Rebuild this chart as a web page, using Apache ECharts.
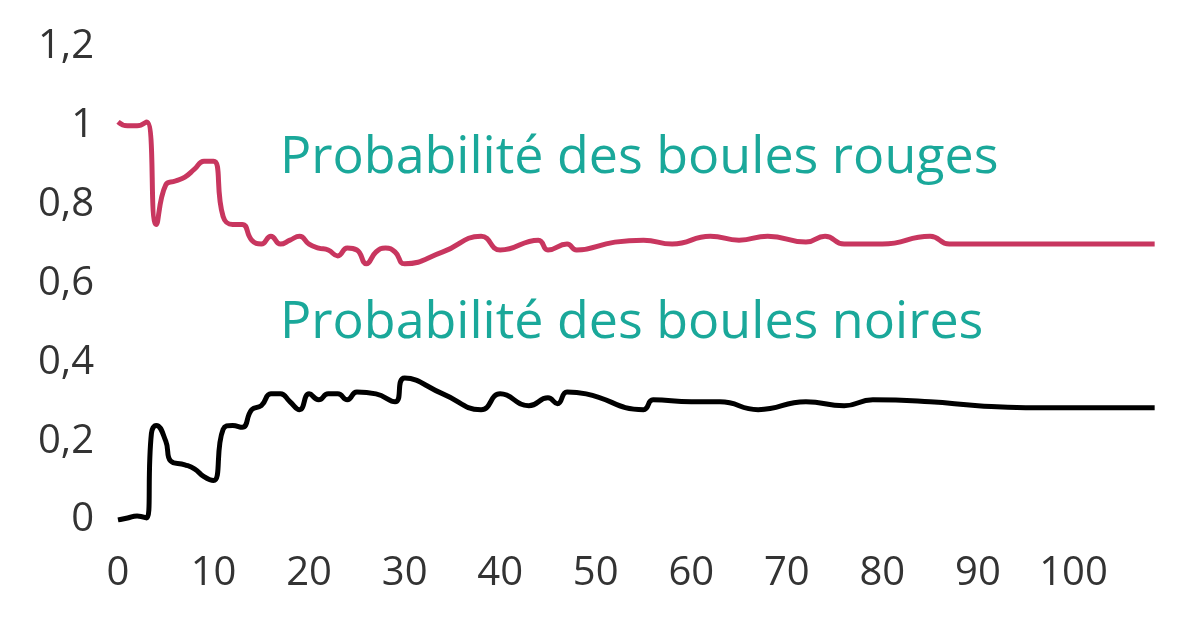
<!DOCTYPE html><html><head><meta charset="utf-8"><script src="https://cdn.jsdelivr.net/npm/echarts@6/dist/echarts.min.js"></script></head><body style="margin:0"><div id="c" style="width:1200px;height:620px"></div><script>
const red=[[0,1.01],[1,1.0],[2,1.0],[3,1.01],[4,0.75],[5,0.85],[6,0.86],[7,0.87],[8,0.89],[9,0.91],[10,0.91],[11,0.77],[12,0.75],[13,0.75],[14,0.71],[15,0.70],[16,0.72],[17,0.70],[18,0.71],[19,0.72],[20,0.70],[21,0.69],[22,0.685],[23,0.67],[24,0.69],[25,0.685],[26,0.65],[27,0.68],[28,0.69],[29,0.68],[30,0.65],[34,0.68],[38,0.72],[40,0.685],[44,0.71],[45,0.685],[47,0.70],[48,0.685],[52,0.705],[55,0.71],[58,0.70],[62,0.72],[65,0.71],[68,0.72],[72,0.705],[74,0.72],[76,0.70],[80,0.70],[85,0.72],[87,0.70],[90,0.70],[100,0.70],[108.5,0.70]];
const black=[[0,0],[1,0.005],[2,0.01],[3,0.005],[3.5,0.22],[4,0.24],[5,0.2],[5.5,0.15],[7,0.14],[8,0.13],[9,0.11],[10,0.10],[11,0.23],[12,0.24],[13,0.235],[14,0.28],[15,0.29],[16,0.32],[17,0.32],[18,0.30],[19,0.28],[20,0.32],[21,0.305],[22,0.32],[23,0.32],[24,0.305],[25,0.325],[27,0.32],[29,0.30],[30,0.36],[34,0.32],[38,0.28],[40,0.32],[43,0.29],[45,0.31],[46,0.295],[47,0.325],[49,0.32],[55,0.28],[56,0.305],[60,0.30],[63,0.30],[67,0.28],[72,0.30],[76,0.29],[79,0.305],[85,0.30],[90,0.29],[95,0.285],[108.5,0.285]];
const redLabel='Probabilité des boules rouges', blackLabel='Probabilité des boules noires';
const ch=echarts.init(document.getElementById('c'));
const lab={color:'#333',fontSize:40,fontFamily:'Open Sans'};
ch.setOption({animation:false,
grid:{left:118,right:31,top:47,bottom:100},
xAxis:{type:'value',min:0,max:110,interval:10,axisLine:{show:false},axisTick:{show:false},splitLine:{show:false},
 axisLabel:Object.assign({margin:34,formatter:v=>v>100?'':v},lab)},
yAxis:{type:'value',min:0,max:1.2,interval:0.2,axisLine:{show:false},axisTick:{show:false},splitLine:{show:false},
 axisLabel:Object.assign({margin:24,formatter:v=>String(+v.toFixed(1)).replace('.',',')},lab)},
series:[{type:'line',data:red,smooth:0.5,symbol:'none',lineStyle:{color:'#c8365f',width:5}},
{type:'line',data:black,smooth:0.5,symbol:'none',lineStyle:{color:'#000',width:5}}],
graphic:[{type:'text',left:280,top:132,style:{text:redLabel,fill:'#1aa89a',font:'52px "Open Sans"'}},
{type:'text',left:280,top:297,style:{text:blackLabel,fill:'#1aa89a',font:'52px "Open Sans"'}}]
});
</script></body></html>
